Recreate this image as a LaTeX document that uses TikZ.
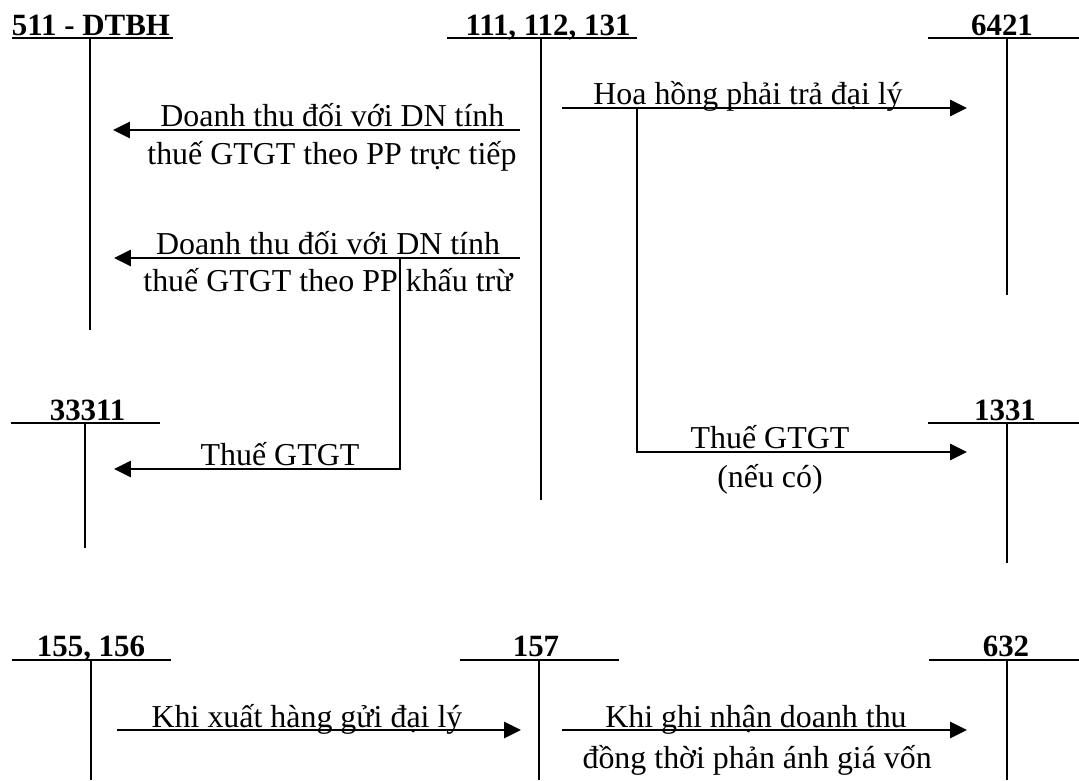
\documentclass[tikz,border=0pt]{standalone}
\usepackage{fontspec}
\setmainfont{Liberation Serif}
\usetikzlibrary{arrows.meta}

\begin{document}
\begin{tikzpicture}[every node/.style={font=\fontsize{22.7}{28}\selectfont,inner sep=0pt},
  acct/.style={font=\fontsize{22}{26}\selectfont\bfseries,anchor=base},
  lbl/.style={anchor=base},
  tline/.style={line width=1.3pt},
  flow/.style={line width=1.8pt,-{Triangle[length=0.42cm,width=0.4cm]}}]
\useasboundingbox (0,0) rectangle (26.975,19.5);
% T accounts, top row
\node[acct] (t511) at (2.275,18.62) {511 - DTBH};
\draw[tline] (0.3,18.55) -- (4.325,18.55);
\draw[tline] (2.25,18.55) -- (2.25,11.25);
\node[acct] (t111) at (13.7,18.62) {111, 112, 131};
\draw[tline] (11.175,18.55) -- (15.925,18.55);
\draw[tline] (13.525,18.55) -- (13.525,7.0);
\node[acct] (t6421) at (25.05,18.62) {6421};
\draw[tline] (23.2,18.55) -- (26.975,18.55);
\draw[tline] (25.175,18.55) -- (25.175,12.125);
% T accounts, middle row
\node[acct] (t33311) at (2.19,8.995) {33311};
\draw[tline] (0.275,8.925) -- (4.0,8.925);
\draw[tline] (2.125,8.925) -- (2.125,5.8);
\node[acct] (t1331) at (25.125,8.995) {1331};
\draw[tline] (23.2,8.925) -- (26.975,8.925);
\draw[tline] (25.175,8.925) -- (25.175,5.425);
% T accounts, bottom row
\node[acct] (t155) at (2.275,3.1) {155, 156};
\draw[tline] (0.3,3.0) -- (4.275,3.0);
\draw[tline] (2.275,3.0) -- (2.275,0);
\node[acct] (t157) at (13.4,3.1) {157};
\draw[tline] (11.5,3.0) -- (15.475,3.0);
\draw[tline] (13.475,3.0) -- (13.475,0);
\node[acct] (t632) at (25.15,3.1) {632};
\draw[tline] (23.225,3.0) -- (26.975,3.0);
\draw[tline] (25.175,3.0) -- (25.175,0);
% end points of the flows
\coordinate (tt1a) at (13.0,16.25);  \coordinate (tt1b) at (2.825,16.25);
\coordinate (kt1a) at (13.0,13.05);  \coordinate (kt1b) at (2.85,13.05);
\coordinate (kt2a) at (10.0,13.05);  \coordinate (kt2b) at (2.85,7.775);
\coordinate (hh1a) at (14.05,16.8);  \coordinate (hh1b) at (24.175,16.8);
\coordinate (hh2a) at (15.925,16.8); \coordinate (hh2b) at (24.175,8.2);
\coordinate (xh1a) at (2.925,1.25);  \coordinate (xh1b) at (13.025,1.25);
\coordinate (gv1a) at (14.05,1.25);  \coordinate (gv1b) at (24.175,1.25);
% labels
\node[lbl] (l1a) at (8.31,16.325) {Doanh thu đối với DN tính};
\node[lbl] (l1b) at (8.3,15.375) {thuế GTGT theo PP trực tiếp};
\node[lbl] (l2a) at (8.2,13.13) {Doanh thu đối với DN tính};
\node[lbl] (l2b) at (8.2,12.2) {thuế GTGT theo PP khấu trừ};
\node[lbl] (l3) at (7.0,7.85) {Thuế GTGT};
\node[lbl] (l4) at (18.7,16.875) {Hoa hồng phải trả đại lý};
\node[lbl] (l5a) at (19.25,8.275) {Thuế GTGT};
\node[lbl] (l5b) at (19.25,7.3) {(nếu có)};
\node[lbl] (l6) at (7.675,1.325) {Khi xuất hàng gửi đại lý};
\node[lbl] (l7a) at (18.9,1.325) {Khi ghi nhận doanh thu};
\node[lbl] (l7b) at (18.93,0.3) {đồng thời phản ánh giá vốn};
% flows
\draw[flow] (tt1a) -- (tt1b);
\draw[flow] (kt1a) -- (kt1b);
\draw[flow] (kt2a) |- (kt2b);
\draw[flow] (hh1a) -- (hh1b);
\draw[flow] (hh2a) |- (hh2b);
\draw[flow] (xh1a) -- (xh1b);
\draw[flow] (gv1a) -- (gv1b);
\end{tikzpicture}
\end{document}
